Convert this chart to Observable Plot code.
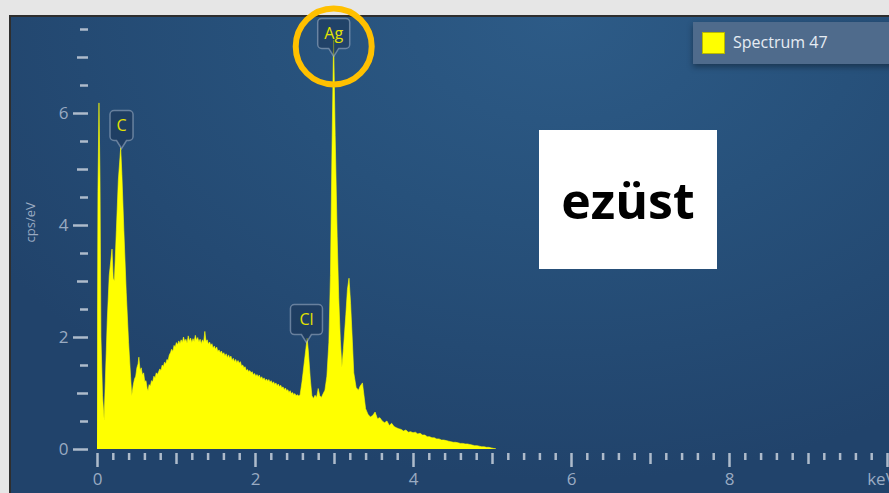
<!DOCTYPE html>
<html><head><meta charset="utf-8">
<script src="https://cdn.jsdelivr.net/npm/d3@7"></script>
<script src="https://cdn.jsdelivr.net/npm/@observablehq/plot@0.6"></script>
<style>
html,body{margin:0;padding:0;background:#e6e6e6;overflow:hidden;}
#wrap{position:relative;width:889px;height:493px;overflow:hidden;}
#panel{position:absolute;left:9px;top:15px;width:890px;height:490px;border-left:2px solid #2e2e2e;border-top:2px solid #2e2e2e;box-sizing:border-box;
  background:radial-gradient(ellipse 75% 95% at 62% 0%, #2d5b87 0%, #27517b 45%, #21436b 100%);}
#chart{position:absolute;left:0;top:0;}
#legend{position:absolute;left:693px;top:22px;width:210px;height:42px;background:#4f6b8c;box-shadow:0 3px 6px rgba(0,0,0,0.35);
  font:16px "Open Sans",sans-serif;color:#e6ecf3;}
#legend .sw{position:absolute;left:9px;top:10px;width:21px;height:20px;background:#ffff00;border:1px solid #b8b800;}
#legend .lb{position:absolute;left:40px;top:9px;line-height:22px;}
#note{position:absolute;left:539px;top:130px;width:178px;height:139px;background:#ffffff;display:flex;align-items:center;justify-content:center;
  font:700 50px "Open Sans",sans-serif;color:#000;}
</style></head>
<body>
<div id="wrap">
  <div id="panel"></div>
  <div id="chart"></div>
  <div id="legend"><div class="sw"></div><div class="lb">Spectrum 47</div></div>
  <div id="note">ezüst</div>
</div>
<script>
// Spectrum: energy (keV) and intensity (cps/eV)
const energy = [
0.000,0.012,0.025,0.038,0.050,0.070,0.090,0.105,0.130,0.155,0.190,0.205,0.220,0.245,0.270,0.300,0.315,0.340,0.370,0.400,
0.425,0.440,0.460,0.475,0.490,0.505,0.520,0.530,0.545,0.560,0.575,0.590,0.605,0.620,0.635,0.646,0.660,0.675,0.690,0.705,
0.720,0.735,0.750,0.765,0.780,0.795,0.810,0.825,0.840,0.855,0.870,0.885,0.900,0.915,0.930,0.945,0.960,0.975,0.990,1.005,
1.020,1.035,1.050,1.065,1.080,1.095,1.110,1.125,1.140,1.155,1.170,1.185,1.200,1.215,1.230,1.245,1.260,1.275,1.290,1.305,
1.320,1.335,1.350,1.365,1.380,1.395,1.410,1.425,1.440,1.455,1.470,1.485,1.500,1.515,1.530,1.545,1.560,1.575,1.590,1.605,
1.620,1.635,1.650,1.665,1.680,1.695,1.710,1.725,1.740,1.755,1.770,1.785,1.800,1.815,1.830,1.845,1.860,1.875,1.890,1.905,
1.920,1.935,1.950,1.965,1.980,1.995,2.010,2.025,2.040,2.055,2.070,2.085,2.100,2.115,2.130,2.145,2.160,2.175,2.190,2.205,
2.220,2.235,2.250,2.265,2.280,2.295,2.310,2.325,2.340,2.355,2.370,2.385,2.400,2.415,2.430,2.445,2.460,2.475,2.490,2.505,
2.520,2.535,2.550,2.570,2.595,2.620,2.645,2.660,2.675,2.700,2.720,2.740,2.760,2.780,2.800,2.820,2.840,2.860,2.885,2.910,
2.935,2.955,2.975,2.995,3.015,3.040,3.060,3.080,3.100,3.120,3.150,3.170,3.190,3.210,3.230,3.250,3.280,3.310,3.330,3.360,
3.380,3.400,3.430,3.460,3.490,3.520,3.550,3.580,3.610,3.640,3.670,3.700,3.730,3.760,3.790,3.820,3.850,3.880,3.910,3.940,
3.970,4.000,4.030,4.060,4.090,4.120,4.150,4.180,4.210,4.240,4.270,4.300,4.330,4.360,4.390,4.420,4.450,4.480,4.510,4.540,
4.570,4.600,4.630,4.660,4.690,4.720,4.750,4.780,4.810,4.840,4.870,4.900,4.930,4.960,4.990,5.020,5.050];
const cps = [
0.00,4.60,6.18,4.80,2.00,0.95,0.52,1.20,2.30,3.10,3.57,3.05,3.00,3.90,4.80,5.38,4.90,3.90,2.80,1.90,
1.30,0.95,1.15,1.25,1.30,1.45,1.52,1.64,1.40,1.45,1.32,1.36,1.20,1.22,1.08,1.04,1.15,1.12,1.22,1.20,
1.30,1.27,1.36,1.33,1.38,1.43,1.40,1.50,1.47,1.55,1.52,1.60,1.58,1.68,1.72,1.78,1.74,1.85,1.82,1.90,
1.86,1.93,1.88,1.95,1.90,2.00,1.92,1.96,1.89,2.02,1.93,1.98,1.90,1.97,1.92,2.03,1.94,1.99,1.91,1.96,
1.88,1.95,1.90,2.10,1.92,1.95,1.87,1.91,1.85,1.88,1.80,1.84,1.78,1.82,1.74,1.77,1.72,1.75,1.69,1.72,
1.66,1.70,1.63,1.68,1.62,1.66,1.58,1.62,1.56,1.60,1.54,1.58,1.53,1.56,1.48,1.50,1.45,1.47,1.40,1.42,
1.38,1.40,1.36,1.38,1.32,1.35,1.30,1.33,1.29,1.32,1.26,1.29,1.24,1.27,1.22,1.25,1.21,1.24,1.19,1.22,
1.17,1.20,1.15,1.18,1.13,1.16,1.11,1.14,1.09,1.11,1.06,1.09,1.04,1.06,1.01,1.04,0.99,1.01,0.97,0.99,
0.95,0.97,0.95,0.96,1.20,1.50,1.80,1.98,1.75,1.25,0.95,0.90,0.96,0.92,1.08,0.95,0.92,0.98,1.05,1.30,
1.90,3.10,5.40,7.30,5.60,3.80,2.70,1.95,1.46,1.80,2.40,2.85,3.05,2.60,2.00,1.36,1.10,1.05,1.12,1.18,
0.95,0.72,0.62,0.57,0.60,0.66,0.54,0.56,0.50,0.47,0.50,0.42,0.46,0.40,0.38,0.36,0.35,0.32,0.34,0.30,
0.31,0.29,0.30,0.27,0.28,0.25,0.25,0.22,0.22,0.20,0.20,0.18,0.18,0.16,0.16,0.15,0.14,0.13,0.12,0.12,
0.11,0.10,0.10,0.09,0.09,0.08,0.07,0.06,0.06,0.05,0.04,0.04,0.03,0.03,0.02,0.01,0.00];

// Peak markers (element, energy keV, marker tip in cps/eV)
const peakNames = ["C", "Cl", "Ag"];
const peakEnergy = [0.304, 2.645, 2.99];
const peakTip = [5.375, 1.91, 7.02];

// Axis ticks
const yLabelTicks = [0, 2, 4, 6];
const yMidTicks = [1, 3, 5, 7];
const yMinorTicks = [0.5, 1.5, 2.5, 3.5, 4.5, 5.5, 6.5, 7.5];
const xLabelTicks = [0, 2, 4, 6, 8];
const xMajorTicks = [0, 2, 4, 6, 8, 10];
const xMidTicks = [1, 3, 5, 7, 9];
const xMinorTicks = d3.range(0, 50).filter(i => i % 5 !== 0).map(i => i / 5);

const spectrum = energy.map((e, i) => ({keV: e, cps: cps[i]}));
const peaks = peakNames.map((n, i) => ({name: n, keV: peakEnergy[i], tip: peakTip[i]}));

const tickColor = "#aebbcb";
const textColor = "#9aabc2";

function callout(w) {
  return {draw(ctx) {
    const h = 30, p = 8, r = 4, hw = w / 2;
    ctx.moveTo(0, 0);
    ctx.lineTo(-5, -p);
    ctx.lineTo(-hw + r, -p);
    ctx.arcTo(-hw, -p, -hw, -p - r, r);
    ctx.lineTo(-hw, -p - h + r);
    ctx.arcTo(-hw, -p - h, -hw + r, -p - h, r);
    ctx.lineTo(hw - r, -p - h);
    ctx.arcTo(hw, -p - h, hw, -p - h + r, r);
    ctx.lineTo(hw, -p - r);
    ctx.arcTo(hw, -p, hw - r, -p, r);
    ctx.lineTo(5, -p);
    ctx.closePath();
  }};
}

const chart = Plot.plot({
  width: 889, height: 493,
  marginLeft: 97, marginRight: 2, marginTop: 15, marginBottom: 44,
  x: {domain: [0, 10]},
  y: {domain: [0, 7.75]},
  style: {background: "transparent", fontFamily: "'Open Sans', sans-serif", overflow: "visible"},
  marks: [
    Plot.areaY(spectrum, {x: "keV", y: "cps", fill: "#ffff00", stroke: "#ffff00", strokeWidth: 0.6, curve: "linear", clip: true}),
    // y axis
    Plot.axisY({ticks: yMinorTicks, tickSize: 8, dx: -9, stroke: tickColor, strokeWidth: 2.5, fill: "none", label: null}),
    Plot.axisY({ticks: yMidTicks, tickSize: 11, dx: -9, stroke: tickColor, strokeWidth: 2.5, fill: "none", label: null}),
    Plot.axisY({ticks: yLabelTicks, tickSize: 15, dx: -9, tickPadding: 5, stroke: tickColor, strokeWidth: 2.5, fill: textColor, fontSize: 17, label: null}),
    Plot.text(["cps/eV"], {frameAnchor: "left", dx: -67, dy: 10, rotate: -90, fill: textColor, fontSize: 13}),
    // x axis
    Plot.axisX({ticks: xMinorTicks, tickSize: 7, dy: 4, stroke: tickColor, strokeWidth: 2.5, fill: "none", label: null}),
    Plot.axisX({ticks: xMidTicks, tickSize: 11, dy: 4, stroke: tickColor, strokeWidth: 2.5, fill: "none", label: null}),
    Plot.axisX({ticks: xMajorTicks, tickSize: 14, dy: 4, stroke: tickColor, strokeWidth: 2.5, fill: "none", label: null}),
    Plot.axisX({ticks: xLabelTicks, tickSize: 14, dy: 4, tickPadding: 5, stroke: "none", fill: textColor, fontSize: 17, label: null}),
    Plot.axisX({ticks: [10], tickFormat: () => "keV", tickSize: 14, dy: 4, dx: -6, tickPadding: 5, stroke: "none", fill: textColor, fontSize: 17, label: null}),
    // peak markers
    ...peaks.map(d => Plot.dot([d], {x: "keV", y: "tip", symbol: callout(14 + 9 * d.name.length), r: 5,
      fill: "rgba(28,52,86,0.55)", stroke: "rgba(175,190,210,0.5)", strokeWidth: 1.5})),
    Plot.text(peaks, {x: "keV", y: "tip", text: "name", dy: -23, fill: "#e2e200", fontSize: 16}),
    // highlight ring around Ag
    Plot.dot(peaks.filter(d => d.name === "Ag"), {x: "keV", y: "tip", dy: -10, r: 38, stroke: "#ffc000", strokeWidth: 6, fill: "none"})
  ]
});
document.getElementById("chart").appendChild(chart);
</script>
</body></html>
